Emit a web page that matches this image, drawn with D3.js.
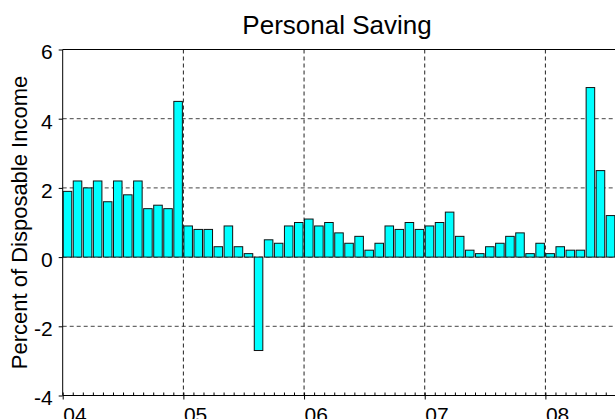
<!DOCTYPE html>
<html>
<head>
<meta charset="utf-8">
<script src="https://cdn.jsdelivr.net/npm/d3@7"></script>
<style>
  body { margin: 0; background: #fff; }
  text { font-family: "Liberation Sans", Arial, sans-serif; fill: #000; }
</style>
</head>
<body>
<script>
// monthly personal saving, % of disposable income, Jan 2004 - Jul 2008
const months = d3.range(55).map(i => i)  // month index from Jan 2004
const saving = [
  1.9, 2.2, 2.0, 2.2, 1.6, 2.2, 1.8, 2.2, 1.4, 1.5, 1.4, 4.5,
  0.9, 0.8, 0.8, 0.3, 0.9, 0.3, 0.1, -2.7, 0.5, 0.4, 0.9, 1.0,
  1.1, 0.9, 1.0, 0.7, 0.4, 0.6, 0.2, 0.4, 0.9, 0.8, 1.0, 0.8,
  0.9, 1.0, 1.3, 0.6, 0.2, 0.1, 0.3, 0.4, 0.6, 0.7, 0.1, 0.4,
  0.1, 0.3, 0.2, 0.2, 4.9, 2.5, 1.2
]
const yearLabels = ["04", "05", "06", "07", "08"]
const yTicks = [-4, -2, 0, 2, 4, 6]

const w = 615, h = 419
const plot = { left: 62.7, right: 615.8, top: 49.5, bottom: 395.5 }

const svg = d3.select("body").append("svg")
  .attr("width", w).attr("height", h)

const x = d3.scaleLinear().domain([0, 55]).range([plot.left, plot.right])
const y = d3.scaleLinear().domain([-4, 6]).range([plot.bottom, plot.top])
const step = x(1) - x(0)

// title
svg.append("text")
  .attr("x", 337).attr("y", 34)
  .attr("text-anchor", "middle")
  .style("font-size", "26px")
  .text("Personal Saving")

// y label
svg.append("text")
  .attr("transform", `translate(27,${(plot.top + plot.bottom) / 2}) rotate(-90)`)
  .attr("text-anchor", "middle")
  .style("font-size", "22px")
  .text("Percent of Disposable Income")

// grid lines
const grid = svg.append("g")
grid.selectAll("line.h").data(yTicks.filter(d => d > -4 && d < 6))
  .join("line").attr("class", "h")
  .attr("x1", plot.left).attr("x2", plot.right)
  .attr("y1", d => y(d)).attr("y2", d => y(d))
  .style("stroke", "#444").style("stroke-dasharray", "4,3")
grid.selectAll("line.v").data(yearLabels.slice(1).map((d, i) => (i + 1) * 12))
  .join("line").attr("class", "v")
  .attr("x1", d => x(d)).attr("x2", d => x(d))
  .attr("y1", plot.top).attr("y2", plot.bottom)
  .style("stroke", "#222").style("stroke-dasharray", "4,3")

// bars
svg.append("g").selectAll("rect").data(months)
  .join("rect")
  .attr("x", d => x(d) + 0.5)
  .attr("width", step * 0.85)
  .attr("y", d => y(Math.max(0, saving[d])))
  .attr("height", d => Math.abs(y(saving[d]) - y(0)))
  .style("fill", "#00ffff")
  .style("stroke", "#111")
  .style("stroke-width", 1)

// frame
svg.append("line").attr("x1", plot.left).attr("x2", plot.right)
  .attr("y1", plot.top).attr("y2", plot.top)
  .style("stroke", "#000")

// y axis (plain hyphen for negatives, like the source)
const yAxis = svg.append("g")
  .attr("transform", `translate(${plot.left},0)`)
  .call(d3.axisLeft(y).tickValues(yTicks).tickSize(4).tickPadding(6).tickFormat(d => String(d)))
yAxis.select(".domain").attr("d", `M0,${plot.top}V${plot.bottom}`).style("stroke", "#000")
yAxis.selectAll("text")
  .style("font-size", "21px")
  .attr("font-family", null)
  .attr("dy", "0.45em")

// minor month ticks, pointing inward
svg.append("g")
  .attr("transform", `translate(0,${plot.bottom})`)
  .call(d3.axisBottom(x).tickValues(d3.range(56)).tickSize(-3).tickFormat(""))
  .call(g => g.select(".domain").remove())

// x axis with year labels (cut by the bottom edge, as in the source)
const xAxis = svg.append("g")
  .attr("transform", `translate(0,${plot.bottom})`)
  .call(d3.axisBottom(x).tickValues(yearLabels.map((d, i) => i * 12))
    .tickSize(4).tickPadding(8).tickFormat((d, i) => yearLabels[i]))
xAxis.select(".domain").attr("d", `M${plot.left},0H${plot.right}`).style("stroke", "#000")
xAxis.selectAll("text")
  .attr("text-anchor", "start")
  .attr("font-family", null)
  .style("font-size", "21px")
</script>
</body>
</html>
